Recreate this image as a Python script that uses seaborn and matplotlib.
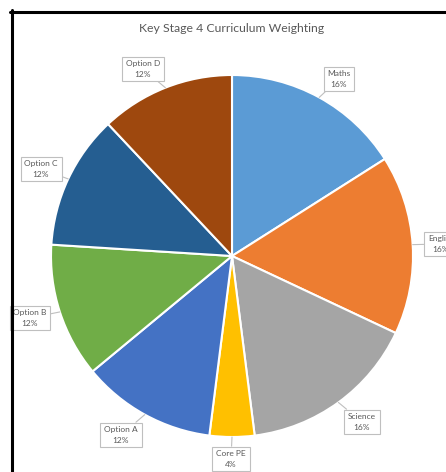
import numpy as np
import matplotlib
matplotlib.use("Agg")
import matplotlib.pyplot as plt
import seaborn as sns
from matplotlib.lines import Line2D

sns.set_style("white")
plt.rcParams['font.family'] = ['Lato', 'DejaVu Sans']

categories = ["Maths", "English", "Science", "Core PE", "Option A", "Option B", "Option C", "Option D"]
values = [16, 16, 16, 4, 12, 12, 12, 12]
colors = ["#5B9BD5", "#ED7D31", "#A5A5A5", "#FFC000", "#4472C4", "#70AD47", "#255E91", "#9E480E"]
title = "Key Stage 4 Curriculum Weighting"
# label box centres in pixel coords (x, y from top)
label_pos = [(339, 79), (441, 244), (362, 422), (231, 459), (121, 435), (30, 318), (41, 169), (143, 69)]

W, H = 446, 472
fig = plt.figure(figsize=(W / 100, H / 100), dpi=100)
ax = fig.add_axes([0, 0, 1, 1])

cx, cy, r = 232, H - 256, 181
wedges, _ = ax.pie(values, colors=colors, startangle=90, counterclock=False,
                   center=(cx, cy), radius=r, frame=True,
                   wedgeprops=dict(edgecolor="white", linewidth=1.5))
ax.set_xlim(0, W)
ax.set_ylim(0, H)
ax.set_aspect("equal")
ax.axis("off")

total = sum(values)
for w, cat, val, (lx, ly) in zip(wedges, categories, values, label_pos):
    ang = np.deg2rad((w.theta1 + w.theta2) / 2)
    px, py = cx + r * np.cos(ang), cy + r * np.sin(ang)
    ax.annotate(f"{cat}\n{round(100 * val / total)}%", xy=(px, py), xytext=(lx, H - ly),
                ha="center", va="center", fontsize=6, color="#595959", linespacing=1.55,
                bbox=dict(boxstyle="square,pad=0.45", fc="white", ec="#BFBFBF", lw=0.8),
                arrowprops=dict(arrowstyle="-", color="#BFBFBF", lw=0.8, shrinkA=0, shrinkB=0))

fig.text(232 / W, 1 - 28 / H, title, ha="center", va="center", fontsize=8.8, color="#595959")

# outer frame of the screenshot
fig.add_artist(Line2D([11.5 / W, 11.5 / W], [0, 1 - 10 / H], color="black", lw=2.2, transform=fig.transFigure))
fig.add_artist(Line2D([10 / W, 1], [1 - 11.5 / H, 1 - 11.5 / H], color="black", lw=2.2, transform=fig.transFigure))

fig.savefig("out.png", dpi=100)
